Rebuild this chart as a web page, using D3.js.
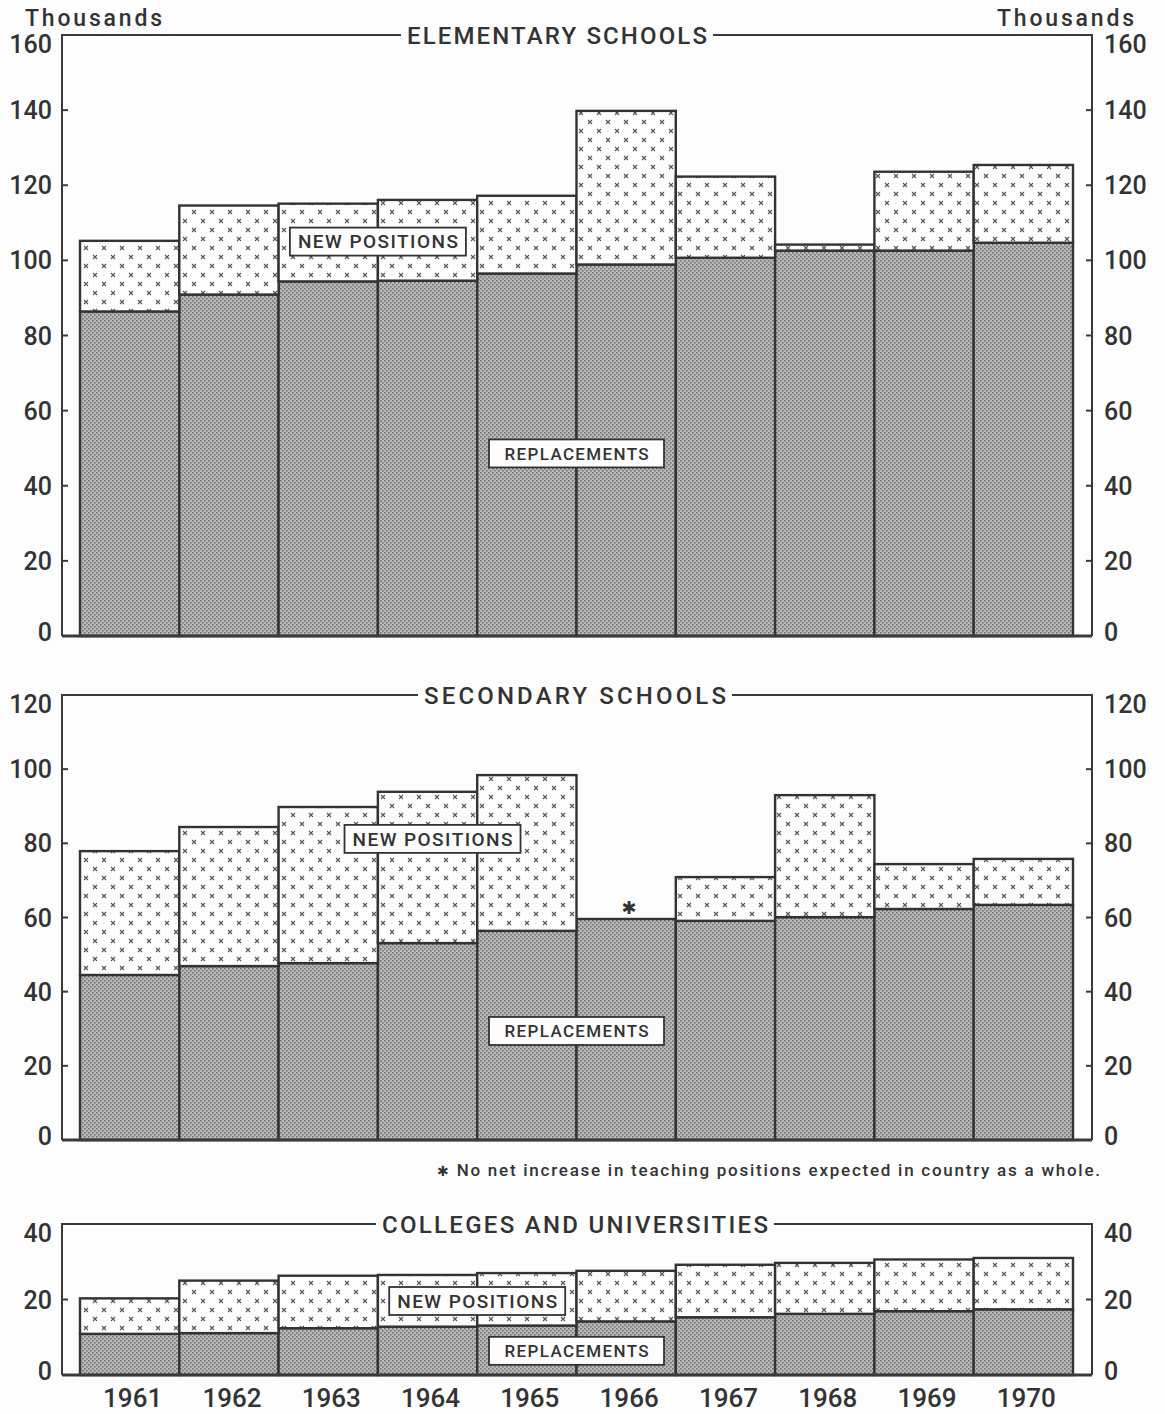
<!DOCTYPE html>
<html>
<head>
<meta charset="utf-8">
<script src="https://cdn.jsdelivr.net/npm/d3@7"></script>
<style>
  body { margin: 0; background: #fdfdfd; }
  text { font-family: Roboto, Lato, sans-serif; font-weight: 500; fill: #333; }
</style>
</head>
<body>
<script>
// teacher demand, thousands: replacements vs new positions
var years = ["1961","1962","1963","1964","1965","1966","1967","1968","1969","1970"];

var elemReplace = [86.4, 90.9, 94.4, 94.6, 96.5, 98.9, 100.7, 102.6, 102.6, 104.7];
var elemNew     = [18.8, 23.7, 20.7, 21.5, 20.7, 40.9, 21.6, 1.6, 21.0, 20.7];
var elemTicks   = [0, 20, 40, 60, 80, 100, 120, 140, 160];

var secReplace = [44.5, 46.9, 47.7, 53.1, 56.4, 59.6, 59.1, 60.1, 62.3, 63.4];
var secNew     = [33.4, 37.5, 42.1, 40.8, 42.0, 0, 11.8, 32.9, 12.1, 12.4];
var secTicks   = [0, 20, 40, 60, 80, 100, 120];

var colReplace = [10.9, 11.1, 12.4, 12.8, 13.1, 14.2, 15.3, 16.2, 16.9, 17.4];
var colNew     = [9.4, 13.9, 13.9, 13.7, 13.9, 13.4, 13.9, 13.5, 13.7, 13.6];
var colTicks   = [0, 20, 40];

var footnote = "No net increase in teaching positions expected in country as a whole.";

var W = 1165, H = 1414,
    axisL = 62, axisR = 1092,
    ink = "#333";

var svg = d3.select("body").append("svg").attr("width", W).attr("height", H);

// patterns: halftone for replacements, crosses for new positions
var defs = svg.append("defs");
var pr = defs.append("pattern").attr("id", "repl").attr("patternUnits", "userSpaceOnUse")
    .attr("width", 4).attr("height", 4);
pr.append("rect").attr("width", 4).attr("height", 4).attr("fill", "#bababa");
pr.append("rect").attr("x", 0).attr("y", 0).attr("width", 1.6).attr("height", 1.6).attr("fill", "#727272");
pr.append("rect").attr("x", 2).attr("y", 2).attr("width", 1.6).attr("height", 1.6).attr("fill", "#727272");

var pn = defs.append("pattern").attr("id", "newpos").attr("patternUnits", "userSpaceOnUse")
    .attr("width", 18).attr("height", 18);
pn.append("rect").attr("width", 18).attr("height", 18).attr("fill", "#fdfdfd");
[[5, 5], [14, 14]].forEach(function(c) {
  pn.append("path")
    .attr("d", "M" + (c[0]-2) + "," + (c[1]-2) + "l4,4M" + (c[0]+2) + "," + (c[1]-2) + "l-4,4")
    .attr("stroke", "#555").attr("stroke-width", 1.1);
});

var x = d3.scaleBand().domain(years).range([80, 1073]).padding(0);

var panels = [
  {title: "ELEMENTARY SCHOOLS", repl: elemReplace, added: elemNew, ticks: elemTicks,
   top: 35, bottom: 636, newAt: ["1964", 0, 105], replAt: ["1966", 0, 48.6], titleW: 300},
  {title: "SECONDARY SCHOOLS", repl: secReplace, added: secNew, ticks: secTicks,
   top: 695, bottom: 1140, newAt: ["1964", 0.55, 81.2], replAt: ["1966", 0, 29.4], titleW: 302},
  {title: "COLLEGES AND UNIVERSITIES", repl: colReplace, added: colNew, ticks: colTicks,
   top: 1224, bottom: 1375, newAt: ["1965", 0, 19.6], replAt: ["1966", 0, 6.4], titleW: 386}
];

panels.forEach(function(p, pi) {
  var y = d3.scaleLinear().domain([0, d3.max(p.ticks)]).range([p.bottom, p.top]);
  var g = svg.append("g");

  var rows = years.map(function(yr, i) { return {year: yr, r: p.repl[i], n: p.added[i]}; });

  // replacement bars
  g.selectAll(".r").data(rows).enter().append("rect")
    .attr("x", function(d) { return x(d.year); })
    .attr("width", x.bandwidth())
    .attr("y", function(d) { return y(d.r); })
    .attr("height", function(d) { return y(0) - y(d.r); })
    .attr("fill", "url(#repl)")
    .attr("stroke", ink).attr("stroke-width", 2.4);

  // new positions stacked on top
  g.selectAll(".n").data(rows.filter(function(d) { return d.n > 0; })).enter().append("rect")
    .attr("x", function(d) { return x(d.year); })
    .attr("width", x.bandwidth())
    .attr("y", function(d) { return y(d.r + d.n); })
    .attr("height", function(d) { return y(d.r) - y(d.r + d.n); })
    .attr("fill", "url(#newpos)")
    .attr("stroke", ink).attr("stroke-width", 2.4);

  // frame
  var frame = g.append("g").attr("stroke", "#3a3a3a").attr("fill", "none");
  frame.append("path").attr("stroke-width", 2)
    .attr("d", "M" + axisL + "," + y(0) + "V" + p.top + "H" + axisR + "V" + y(0));
  frame.append("line").attr("stroke-width", 3)
    .attr("x1", axisL).attr("x2", axisR).attr("y1", y(0)).attr("y2", y(0));

  // ticks and labels both sides
  p.ticks.forEach(function(t) {
    if (t !== d3.max(p.ticks)) {
      frame.append("line").attr("stroke-width", 2)
        .attr("x1", axisL).attr("x2", axisL + 6).attr("y1", y(t)).attr("y2", y(t));
      frame.append("line").attr("stroke-width", 2)
        .attr("x1", axisR - 6).attr("x2", axisR).attr("y1", y(t)).attr("y2", y(t));
    }
    var dy = (t === d3.max(p.ticks)) ? 9 : (t === 0 ? -4 : 0);
    g.append("text").attr("x", 52).attr("y", y(t) + dy).attr("dy", "0.36em")
      .attr("text-anchor", "end").attr("font-size", 25).text(t);
    g.append("text").attr("x", 1104).attr("y", y(t) + dy).attr("dy", "0.36em")
      .attr("text-anchor", "start").attr("font-size", 25).text(t);
  });

  // title breaking the top line
  var tx = (pi === 0) ? 557 : 575;
  g.append("rect").attr("x", tx - p.titleW / 2 - 6).attr("y", p.top - 12)
    .attr("width", p.titleW + 12).attr("height", 24).attr("fill", "#fdfdfd");
  g.append("text").attr("x", tx).attr("y", p.top).attr("dy", "0.36em")
    .attr("text-anchor", "middle").attr("font-size", 24)
    .attr("textLength", p.titleW).attr("lengthAdjust", "spacing")
    .text(p.title);

  // boxed labels
  [[p.newAt, "NEW POSITIONS", 19, 160, 176], [p.replAt, "REPLACEMENTS", 17, 144, 175]].forEach(function(b) {
    var cx = x(b[0][0]) + b[0][1] * x.bandwidth(), cy = y(b[0][2]);
    g.append("rect").attr("x", cx - b[4] / 2).attr("y", cy - 14)
      .attr("width", b[4]).attr("height", 28)
      .attr("fill", "#fdfdfd").attr("stroke", ink).attr("stroke-width", 1.8);
    g.append("text").attr("x", cx).attr("y", cy).attr("dy", "0.36em")
      .attr("text-anchor", "middle").attr("font-size", b[2])
      .attr("textLength", b[3]).attr("lengthAdjust", "spacing")
      .text(b[1]);
  });

  // asterisk where no new positions
  rows.forEach(function(d) {
    if (pi === 1 && d.n === 0) {
      g.append("text").attr("x", x(d.year) + x.bandwidth() * 0.53).attr("y", y(d.r) - 11)
        .attr("dy", "0.36em").attr("text-anchor", "middle").attr("font-size", 18)
        .style("font-family", "DejaVu Sans").text("\u2731");
    }
  });
});

// units
svg.append("text").attr("x", 25).attr("y", 18).attr("dy", "0.36em")
  .attr("font-size", 23).attr("textLength", 137).attr("lengthAdjust", "spacing").text("Thousands");
svg.append("text").attr("x", 997).attr("y", 18).attr("dy", "0.36em")
  .attr("font-size", 23).attr("textLength", 137).attr("lengthAdjust", "spacing").text("Thousands");

// footnote
var fn = svg.append("text").attr("x", 437).attr("y", 1170).attr("dy", "0.36em")
  .attr("font-size", 17).attr("textLength", 663).attr("lengthAdjust", "spacing");
fn.append("tspan").style("font-family", "DejaVu Sans").attr("font-size", 14).text("\u2731 ");
fn.append("tspan").text(footnote);

// year labels
svg.selectAll(".yr").data(years).enter().append("text")
  .attr("x", function(d) { return x(d) + x.bandwidth() / 2 + 3; })
  .attr("y", 1398).attr("dy", "0.36em")
  .attr("text-anchor", "middle").attr("font-size", 26)
  .text(function(d) { return d; });
</script>
</body>
</html>
